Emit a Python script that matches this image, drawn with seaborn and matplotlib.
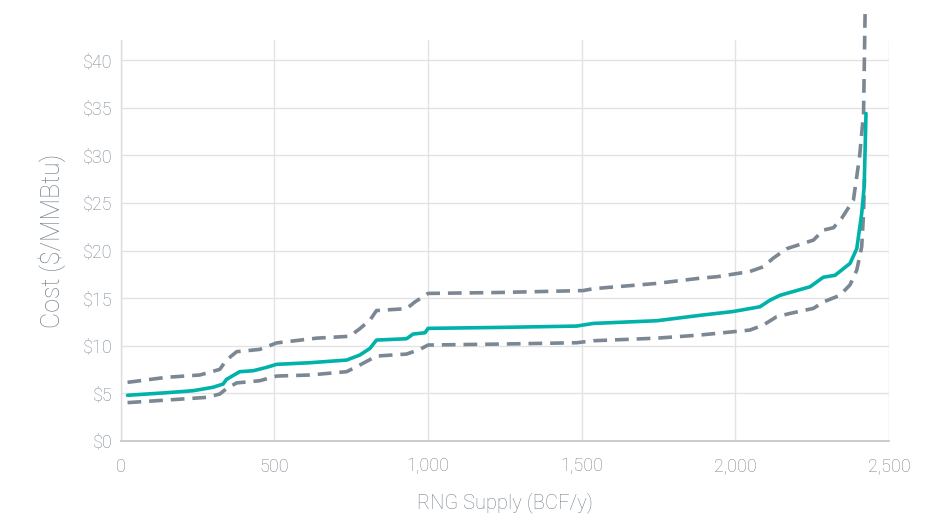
import matplotlib
matplotlib.use("Agg")
import matplotlib.pyplot as plt
import seaborn as sns
import pandas as pd
from matplotlib.ticker import FuncFormatter

# ---- data ----
mid_x = [22, 149, 235, 300, 333, 344, 387, 431, 474, 507, 615, 735, 778, 811, 832, 930, 951, 990,
         1000, 1234, 1483, 1538, 1744, 1885, 1993, 2080, 2113, 2145, 2243, 2286, 2324, 2373, 2395,
         2411, 2419, 2425]
mid_y = [4.8, 5.07, 5.28, 5.64, 5.98, 6.47, 7.28, 7.38, 7.73, 8.05, 8.22, 8.5, 9.03, 9.73, 10.6,
         10.74, 11.23, 11.37, 11.83, 11.93, 12.07, 12.35, 12.63, 13.2, 13.6, 14.1, 14.8, 15.3, 16.2,
         17.2, 17.4, 18.65, 20.2, 23.9, 26.7, 34.4]

hi_x = [22, 149, 257, 322, 344, 377, 452, 507, 637, 745, 778, 811, 832, 930, 957, 1000, 1234, 1505,
        1538, 1744, 1885, 1939, 2047, 2091, 2123, 2167, 2254, 2286, 2319, 2346, 2384, 2404, 2417, 2422]
hi_y = [6.16, 6.69, 6.93, 7.52, 8.5, 9.38, 9.62, 10.3, 10.8, 11.0, 11.8, 12.7, 13.7, 13.9, 14.6,
        15.5, 15.6, 15.8, 16.0, 16.55, 17.1, 17.25, 17.8, 18.3, 19.2, 20.2, 21.1, 22.15, 22.4, 23.4,
        25.3, 29.85, 34.4, 44.9]

lo_x = [22, 149, 279, 322, 344, 377, 452, 507, 615, 735, 778, 832, 930, 973, 1000, 1234, 1483, 1538,
        1744, 1885, 2047, 2091, 2134, 2178, 2254, 2286, 2340, 2373, 2395, 2411, 2417, 2420]
lo_y = [4.03, 4.3, 4.58, 4.93, 5.5, 6.1, 6.33, 6.82, 6.93, 7.28, 7.98, 8.92, 9.13, 9.62, 10.08,
        10.18, 10.32, 10.53, 10.8, 11.13, 11.65, 12.18, 13.05, 13.4, 13.93, 14.6, 15.3, 16.4, 17.95,
        20.4, 23.9, 27.5]

x_ticks = [0, 500, 1000, 1500, 2000, 2500]
y_ticks = [0, 5, 10, 15, 20, 25, 30, 35, 40]

TEAL = "#00b2a9"
GRAY = "#7b8793"
TXT = "#76838f"

sns.set_theme(style="whitegrid")
plt.rcParams["font.family"] = ["Roboto", "DejaVu Sans"]
plt.rcParams["font.weight"] = "light"

fig = plt.figure(figsize=(9.29, 5.15), dpi=100)
ax = fig.add_axes([0.130, 0.1437, 0.827, 0.7783])

df_mid = pd.DataFrame({"x": mid_x, "y": mid_y})
df_hi = pd.DataFrame({"x": hi_x, "y": hi_y})
df_lo = pd.DataFrame({"x": lo_x, "y": lo_y})

sns.lineplot(data=df_hi, x="x", y="y", ax=ax, color=GRAY, lw=2.6, linestyle=(0, (3.8, 2.2)),
             clip_on=False, zorder=3)
sns.lineplot(data=df_lo, x="x", y="y", ax=ax, color=GRAY, lw=2.6, linestyle=(0, (3.8, 2.2)), zorder=3)
sns.lineplot(data=df_mid, x="x", y="y", ax=ax, color=TEAL, lw=2.6, zorder=4)

ax.set_xlim(0, 2500)
ax.set_ylim(0, 42.1)
ax.set_xticks(x_ticks)
ax.set_yticks(y_ticks)
ax.xaxis.set_major_formatter(FuncFormatter(lambda v, p: f"{int(v):,}"))
ax.yaxis.set_major_formatter(FuncFormatter(lambda v, p: f"${int(v)}"))

ax.grid(True, color="#e3e3e3", lw=1.0)
for s in ["top", "right"]:
    ax.spines[s].set_visible(False)
ax.spines["left"].set_color("#dcdcdc")
ax.spines["bottom"].set_color("#c4c4c4")
ax.spines["left"].set_linewidth(1.0)
ax.spines["bottom"].set_linewidth(1.2)

ax.tick_params(axis="both", colors=TXT, labelsize=13, length=0)
ax.tick_params(axis="x", pad=12)
ax.tick_params(axis="y", pad=6)

ax.set_xlabel("RNG Supply (BCF/y)", color=TXT, fontsize=14.5, labelpad=12, fontweight="light")
ax.set_ylabel("Cost ($/MMBtu)", color=TXT, fontsize=18, labelpad=12, fontweight="light")

fig.savefig("out.png", dpi=100, facecolor="white")
